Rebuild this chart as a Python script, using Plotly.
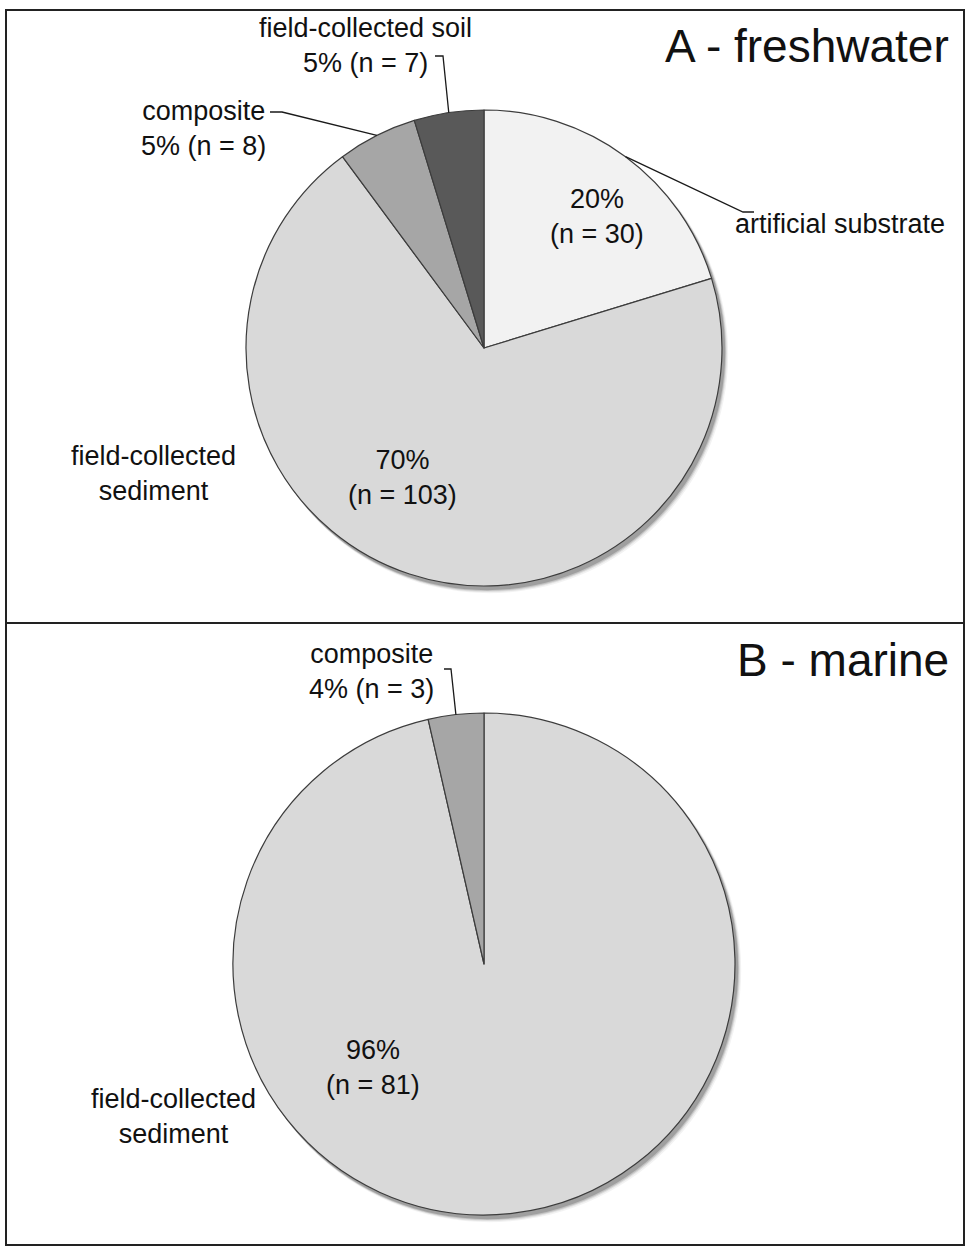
import math
import plotly.graph_objects as go

W, H = 966, 1246

# Panel A: freshwater studies by sediment type
fw_labels = ["artificial substrate", "field-collected sediment", "composite", "field-collected soil"]
fw_counts = [30, 103, 8, 7]
fw_colors = ["#f2f2f2", "#d9d9d9", "#a6a6a6", "#595959"]

# Panel B: marine studies by sediment type
mar_labels = ["field-collected sediment", "composite"]
mar_counts = [81, 3]
mar_colors = ["#d9d9d9", "#a6a6a6"]

panel_titles = ["A - freshwater", "B - marine"]

FONT = "Liberation Sans, Arial, sans-serif"
FS = 27


def fx(x):
    return x / W


def fy(y):
    return 1 - y / H


def pct(counts):
    tot = sum(counts)
    return [round(100 * c / tot) for c in counts]


def edge_point(counts, i, cx, cy, r):
    """Point on the rim at the middle of slice i (clockwise from 12 o'clock)."""
    tot = sum(counts)
    start = sum(counts[:i]) / tot
    mid = (start + counts[i] / tot / 2) * 2 * math.pi
    return cx + r * math.sin(mid), cy - r * math.cos(mid)


# pie geometry in pixels
A_cx, A_cy, A_r = 484, 348, 238
B_cx, B_cy, B_r = 484, 964, 251

fig = go.Figure()


def add_pie(labels, counts, colors, cx, cy, r):
    fig.add_trace(go.Pie(
        labels=labels, values=counts, sort=False, direction="clockwise", rotation=0,
        marker=dict(colors=colors, line=dict(color="#3c3c3c", width=1.2)),
        textinfo="none", hoverinfo="label+value+percent", showlegend=False,
        domain=dict(x=[fx(cx - r), fx(cx + r)], y=[fy(cy + r), fy(cy - r)]),
    ))


add_pie(fw_labels, fw_counts, fw_colors, A_cx, A_cy, A_r)
add_pie(mar_labels, mar_counts, mar_colors, B_cx, B_cy, B_r)

shapes = []

# soft drop shadow behind each pie
for cx, cy, r in [(A_cx, A_cy, A_r), (B_cx, B_cy, B_r)]:
    for k, op in [(7, 0.05), (5, 0.08), (3.5, 0.12), (2, 0.18)]:
        shapes.append(dict(
            type="circle", xref="paper", yref="paper", layer="below",
            x0=fx(cx - r + 2 + k * 0.3), x1=fx(cx + r + 2 + k * 0.6),
            y0=fy(cy + r + 3 + k * 0.6), y1=fy(cy - r + 3 + k * 0.3),
            fillcolor=f"rgba(0,0,0,{op})", line=dict(width=0),
        ))

# panel frames
shapes.append(dict(type="rect", xref="paper", yref="paper",
                   x0=fx(6), x1=fx(964), y0=fy(1245), y1=fy(10),
                   line=dict(color="#222222", width=2), fillcolor="rgba(0,0,0,0)"))
shapes.append(dict(type="line", xref="paper", yref="paper",
                   x0=fx(6), x1=fx(964), y0=fy(623), y1=fy(623),
                   line=dict(color="#222222", width=2)))


def leader(points):
    path = "M " + " L ".join(f"{fx(x)},{fy(y)}" for x, y in points)
    shapes.append(dict(type="path", xref="paper", yref="paper", path=path,
                       line=dict(color="#1a1a1a", width=1.3)))


fa = pct(fw_counts)
ma = pct(mar_counts)

# leader lines for the freshwater pie
ex, ey = edge_point(fw_counts, 3, A_cx, A_cy, A_r)
leader([(435, 56), (443, 56), (ex, ey)])
ex, ey = edge_point(fw_counts, 2, A_cx, A_cy, A_r)
leader([(270, 112), (282, 112), (ex, ey)])
ex, ey = edge_point(fw_counts, 0, A_cx, A_cy, A_r)
leader([(ex, ey), (743, 212), (754, 212)])

# leader line for the marine pie
ex, ey = edge_point(mar_counts, 1, B_cx, B_cy, B_r)
leader([(ex, ey), (451, 669), (444, 669)])

annotations = []


def label(text, x, y, size=FS, align="center", xanchor="center"):
    annotations.append(dict(
        text=text, x=fx(x), y=fy(y), xref="paper", yref="paper",
        showarrow=False, align=align, xanchor=xanchor, yanchor="middle",
        font=dict(family=FONT, size=size, color="#111111"),
    ))


# panel titles
label(panel_titles[0], 951, 46, size=46, xanchor="right")
label(panel_titles[1], 951, 660, size=46, xanchor="right")

# freshwater labels
label(f"{fa[0]}%<br>(n = {fw_counts[0]})", 597, 216)
label("field-collected<br>sediment", 153, 474)
label(f"{fa[1]}%<br>(n = {fw_counts[1]})", 402, 477)
label(f"{fw_labels[2]}<br>{fa[2]}% (n = {fw_counts[2]})", 203, 128)
label(f"{fw_labels[3]}<br>{fa[3]}% (n = {fw_counts[3]})", 365, 45)
label(fw_labels[0], 840, 224)

# marine labels
label(f"{mar_labels[1]}<br>{ma[1]}% (n = {mar_counts[1]})", 371, 671)
label(f"{ma[0]}%<br>(n = {mar_counts[0]})", 373, 1067)
label("field-collected<br>sediment", 173, 1116)

fig.update_layout(
    width=W, height=H, margin=dict(l=0, r=0, t=0, b=0),
    paper_bgcolor="white", plot_bgcolor="white",
    shapes=shapes, annotations=annotations,
)

fig.write_html("out.html")
